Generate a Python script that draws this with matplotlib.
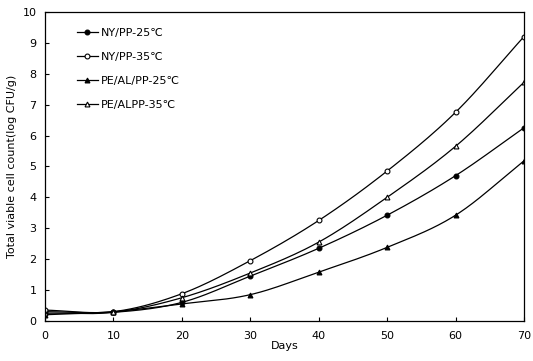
import numpy as np
import matplotlib.pyplot as plt

days = [0, 10, 20, 30, 40, 50, 60, 70]
labels = ['NY/PP-25\u2103', 'NY/PP-35\u2103', 'PE/AL/PP-25\u2103', 'PE/ALPP-35\u2103']
ny_pp_25 = [0.30, 0.28, 0.60, 1.45, 2.35, 3.42, 4.70, 6.25]
ny_pp_35 = [0.35, 0.30, 0.88, 1.95, 3.25, 4.85, 6.75, 9.20]
pe_al_pp_25 = [0.20, 0.30, 0.55, 0.85, 1.58, 2.38, 3.42, 5.18]
pe_alpp_35 = [0.25, 0.28, 0.75, 1.55, 2.55, 4.00, 5.65, 7.72]

series = [ny_pp_25, ny_pp_35, pe_al_pp_25, pe_alpp_35]
markers = ['o', 'o', '^', '^']
faces = ['black', 'white', 'black', 'white']


def smooth(x, y, n=20):
    # catmull-rom like the excel smoothed line
    x = np.asarray(x, float)
    y = np.asarray(y, float)
    px = np.concatenate([[2 * x[0] - x[1]], x, [2 * x[-1] - x[-2]]])
    py = np.concatenate([[2 * y[0] - y[1]], y, [2 * y[-1] - y[-2]]])
    xs, ys = [], []
    t = np.linspace(0, 1, n, endpoint=False)
    for i in range(1, len(px) - 2):
        for p, out in ((px, xs), (py, ys)):
            p0, p1, p2, p3 = p[i - 1], p[i], p[i + 1], p[i + 2]
            out.extend(0.5 * (2 * p1 + (-p0 + p2) * t
                              + (2 * p0 - 5 * p1 + 4 * p2 - p3) * t ** 2
                              + (-p0 + 3 * p1 - 3 * p2 + p3) * t ** 3))
    xs.append(x[-1])
    ys.append(y[-1])
    return xs, ys


plt.rcParams['font.family'] = ['Liberation Sans Narrow', 'DejaVu Sans']
fig = plt.figure(figsize=(5.33, 3.61), dpi=100)
ax = fig.add_axes([0.0844, 0.111, 0.8986, 0.856])

for vals, m, fc, lab in zip(series, markers, faces, labels):
    sx, sy = smooth(days, vals)
    ax.plot(sx, sy, color='black', lw=0.9)
    ax.plot(days, vals, linestyle='none', marker=m, ms=3.5, mfc=fc, mec='black', mew=0.8)
    ax.plot([], [], color='black', lw=0.9, marker=m, ms=3.5, mfc=fc, mec='black', mew=0.8, label=lab)

ax.set_xlim(0, 70)
ax.set_ylim(0, 10)
ax.set_xticks(range(0, 71, 10))
ax.set_yticks(range(0, 11))
ax.tick_params(direction='in', length=3, labelsize=8, width=0.8)
ax.tick_params(axis='x', pad=7)
ax.tick_params(axis='y', pad=6)
for s in ax.spines.values():
    s.set_linewidth(0.9)
ax.set_xlabel('Days', fontsize=8, labelpad=0)
ax.set_ylabel('Total viable cell count(log CFU/g)', fontsize=8, labelpad=4)
ax.legend(loc='upper left', bbox_to_anchor=(0.045, 0.98), frameon=False, fontsize=8,
          handlelength=1.9, labelspacing=1.25, handletextpad=0.3)

fig.savefig('out.png', dpi=100)
